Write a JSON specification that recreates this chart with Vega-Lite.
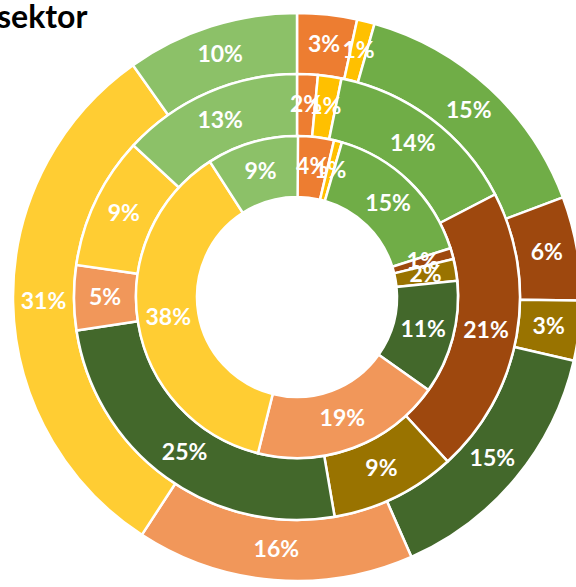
{
  "$schema": "https://vega.github.io/schema/vega-lite/v6.json",
  "width": 558,
  "height": 580,
  "autosize": {"type": "none"},
  "padding": {"left": 18, "top": 7, "right": 0, "bottom": 0},
  "background": "#ffffff",
  "title": {"text": "sektor", "anchor": "start", "frame": "group", "orient": "top", "offset": 0, "dx": -21, "dy": 53, "baseline": "alphabetic", "font": "Lato", "fontSize": 32, "fontWeight": "bold", "color": "#000000"},
  "config": {"view": {"stroke": null}},
  "datasets": {
    "rings": [
      {"ring": "ytre", "cat": "k1", "idx": 1, "value": 3.4, "label": "3%"},
      {"ring": "ytre", "cat": "k2", "idx": 2, "value": 1.0, "label": "1%"},
      {"ring": "ytre", "cat": "k3", "idx": 3, "value": 14.9, "label": "15%"},
      {"ring": "ytre", "cat": "k4", "idx": 4, "value": 5.9, "label": "6%"},
      {"ring": "ytre", "cat": "k5", "idx": 5, "value": 3.4, "label": "3%"},
      {"ring": "ytre", "cat": "k6", "idx": 6, "value": 14.8, "label": "15%"},
      {"ring": "ytre", "cat": "k7", "idx": 7, "value": 15.8, "label": "16%"},
      {"ring": "ytre", "cat": "k8", "idx": 8, "value": 31.0, "label": "31%"},
      {"ring": "ytre", "cat": "k9", "idx": 9, "value": 9.8, "label": "10%"},
      {"ring": "midt", "cat": "k1", "idx": 1, "value": 1.5, "label": "2%"},
      {"ring": "midt", "cat": "k2", "idx": 2, "value": 1.7, "label": "1%"},
      {"ring": "midt", "cat": "k3", "idx": 3, "value": 14.2, "label": "14%"},
      {"ring": "midt", "cat": "k4", "idx": 4, "value": 20.8, "label": "21%"},
      {"ring": "midt", "cat": "k5", "idx": 5, "value": 9.1, "label": "9%"},
      {"ring": "midt", "cat": "k6", "idx": 6, "value": 25.3, "label": "25%"},
      {"ring": "midt", "cat": "k7", "idx": 7, "value": 4.7, "label": "5%"},
      {"ring": "midt", "cat": "k8", "idx": 8, "value": 9.6, "label": "9%"},
      {"ring": "midt", "cat": "k9", "idx": 9, "value": 13.1, "label": "13%"},
      {"ring": "indre", "cat": "k1", "idx": 1, "value": 3.7, "label": "4%"},
      {"ring": "indre", "cat": "k2", "idx": 2, "value": 0.8, "label": "1%"},
      {"ring": "indre", "cat": "k3", "idx": 3, "value": 15.6, "label": "15%"},
      {"ring": "indre", "cat": "k4", "idx": 4, "value": 1.1, "label": "1%"},
      {"ring": "indre", "cat": "k5", "idx": 5, "value": 2.2, "label": "2%"},
      {"ring": "indre", "cat": "k6", "idx": 6, "value": 11.4, "label": "11%"},
      {"ring": "indre", "cat": "k7", "idx": 7, "value": 19.1, "label": "19%"},
      {"ring": "indre", "cat": "k8", "idx": 8, "value": 37.0, "label": "38%"},
      {"ring": "indre", "cat": "k9", "idx": 9, "value": 9.2, "label": "9%"}
    ]
  },
  "data": {"name": "rings"},
  "encoding": {
    "theta": {"field": "value", "type": "quantitative", "stack": true, "scale": {"domain": [0, 100]}},
    "order": {"field": "idx", "type": "quantitative"},
    "color": {"field": "cat", "type": "nominal", "legend": null,
      "scale": {"domain": ["k1", "k2", "k3", "k4", "k5", "k6", "k7", "k8", "k9"],
                "range": ["#ED7D31", "#FFC000", "#70AD47", "#9E480E", "#997300", "#43682B", "#F1975A", "#FFCD33", "#8CC168"]}}
  },
  "layer": [
    {
      "transform": [{"filter": "datum.ring === 'ytre'"}],
      "layer": [
        {"mark": {"type": "arc", "radius": 284, "radius2": 223, "stroke": "#ffffff", "strokeWidth": 2.5}},
        {"mark": {"type": "text", "radius": 253.5, "font": "Lato", "fontSize": 23, "fontWeight": "bold", "fill": "#ffffff", "align": "center", "baseline": "middle"},
         "encoding": {"text": {"field": "label"}, "color": {"value": "#ffffff"}}}
      ]
    },
    {
      "transform": [{"filter": "datum.ring === 'midt'"}],
      "layer": [
        {"mark": {"type": "arc", "radius": 223, "radius2": 161, "stroke": "#ffffff", "strokeWidth": 2.5}},
        {"mark": {"type": "text", "radius": 192, "font": "Lato", "fontSize": 23, "fontWeight": "bold", "fill": "#ffffff", "align": "center", "baseline": "middle"},
         "encoding": {"text": {"field": "label"}, "color": {"value": "#ffffff"}}}
      ]
    },
    {
      "transform": [{"filter": "datum.ring === 'indre'"}],
      "layer": [
        {"mark": {"type": "arc", "radius": 161, "radius2": 100, "stroke": "#ffffff", "strokeWidth": 2.5}},
        {"mark": {"type": "text", "radius": 130.5, "font": "Lato", "fontSize": 23, "fontWeight": "bold", "fill": "#ffffff", "align": "center", "baseline": "middle"},
         "encoding": {"text": {"field": "label"}, "color": {"value": "#ffffff"}}}
      ]
    }
  ]
}
